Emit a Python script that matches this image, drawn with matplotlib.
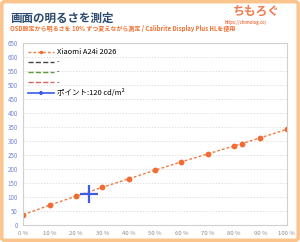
import matplotlib
matplotlib.use("Agg")
import matplotlib.pyplot as plt
from matplotlib.patches import FancyBboxPatch

plt.rcParams['font.family'] = ['Noto Sans CJK JP', 'DejaVu Sans']

# データ
brightness_pct = [0, 10, 20, 30, 40, 50, 60, 70, 80, 83, 90, 100]
luminance = [37, 71, 103, 135, 165, 196, 226, 254, 283, 291, 312, 342]
point_x = [25]
point_y = [111]
y_ticks = list(range(0, 651, 50))
x_ticks = list(range(0, 101, 10))
x_labels = [f'{v} %' for v in x_ticks]

title = '画面の明るさを測定'
subtitle = 'OSD設定から明るさを 10% ずつ変えながら測定 / Calibrite Display Plus HLを使用'

fig = plt.figure(figsize=(3.0, 2.42), dpi=100)
fig.patch.set_facecolor('white')

# 外枠
fig.patches.append(FancyBboxPatch((0.006, 0.007), 0.988, 0.986, boxstyle='round,pad=0,rounding_size=0.01',
                                  transform=fig.transFigure, fill=False, edgecolor='#fbc48c', linewidth=2.5))

ax = fig.add_axes([0.0777, 0.0702, 0.878, 0.751])

ax.plot(brightness_pct, luminance, linestyle=(0, (2, 1.5)), color='#f07a40', linewidth=1.0,
        marker='o', markersize=4.2, markerfacecolor='#f26b32', markeredgewidth=0, label='Xiaomi A24i 2026')
ax.plot([], [], linestyle='--', color='#444444', linewidth=1.0, label='-')
ax.plot([], [], linestyle='--', color='#5a9a3a', linewidth=1.0, label='-')
ax.plot([], [], linestyle='--', color='#e06060', linewidth=1.0, label='-')
ax.plot(point_x, point_y, linestyle='-', color='#3a5ee8', linewidth=1.2, marker='+',
        markersize=13, markeredgewidth=1.6, label='ポイント:120 cd/m²')

ax.set_xlim(0, 100)
ax.set_ylim(0, 650)
ax.set_yticks(y_ticks)
ax.set_xticks(x_ticks)
ax.set_xticklabels(x_labels)
ax.tick_params(axis='y', labelsize=4.5, labelcolor='#7088dc', length=0, pad=4)
ax.tick_params(axis='x', labelsize=4.3, labelcolor='#8a8a8a', length=0, pad=4)

ax.grid(axis='y', color='#d8d8d8', linestyle=(0, (1.5, 2)), linewidth=0.6)
ax.set_axisbelow(True)
for s in ax.spines.values():
    s.set_color('#d0d0d0')
    s.set_linewidth(0.8)

leg = ax.legend(loc='upper left', fontsize=5.4, frameon=False, handlelength=3.4,
                labelspacing=0.3, borderaxespad=0.35, borderpad=0.3, handletextpad=0.4)
for h in leg.legend_handles:
    if hasattr(h, 'set_markersize'):
        h.set_markersize(2.5)

fig.text(0.033, 0.926, title, fontsize=8.3, fontweight='bold', color='#2d4b6e', ha='left', va='center')
fig.text(0.033, 0.882, subtitle, fontsize=4.3, fontweight='bold', color='#f07030', ha='left', va='center')

# ロゴ
fig.text(0.855, 0.952, 'ちもろぐ', fontsize=8.5, fontweight='bold', color='#f07c50', ha='center', va='center')
fig.text(0.82, 0.905, 'https://chimolog.co/', fontsize=3, fontweight='bold', color='#f07c50', ha='center', va='center')

fig.savefig('out.png', dpi=100)
